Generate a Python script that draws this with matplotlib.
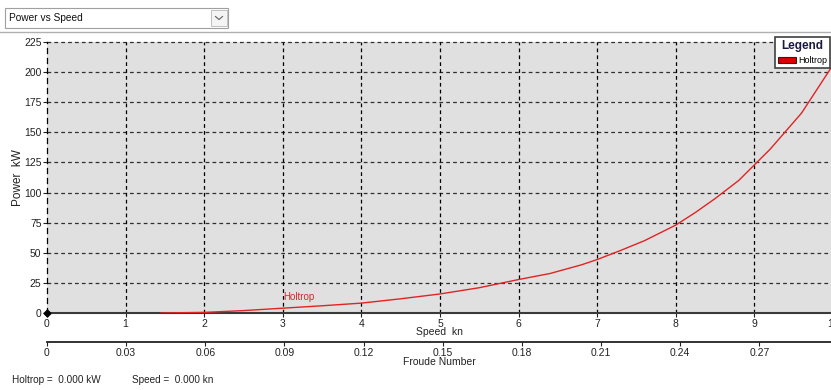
import matplotlib
matplotlib.use("Agg")
import matplotlib.pyplot as plt
from matplotlib.patches import Rectangle, Patch
from matplotlib.lines import Line2D

# Holtrop power curve
speed_kn = [1.45, 2.0, 2.5, 3.0, 3.5, 4.0, 4.5, 5.0, 5.5, 6.0, 6.4, 6.8, 7.0,
            7.3, 7.6, 8.0, 8.25, 8.5, 8.8, 9.0, 9.2, 9.4, 9.6, 9.8, 10.0]
power_kw = [0.0, 0.5, 2.0, 4.0, 6.0, 8.2, 11.8, 15.8, 21.0, 27.8, 32.8, 40.0, 44.4,
            52.0, 60.0, 73.0, 83.5, 95.0, 110.0, 123.0, 136.0, 151.0, 166.0, 186.0, 206.0]

speed_ticks = [0, 1, 2, 3, 4, 5, 6, 7, 8, 9, 10]
power_ticks = [0, 25, 50, 75, 100, 125, 150, 175, 200, 225]
froude_ticks = [0, 0.03, 0.06, 0.09, 0.12, 0.15, 0.18, 0.21, 0.24, 0.27]
froude_labels = ["0", "0.03", "0.06", "0.09", "0.12", "0.15", "0.18",
                 "0.21", "0.24", "0.27"]
froude_per_kn = 0.02979

plt.rcParams["font.family"] = ["Liberation Sans", "DejaVu Sans"]

W, H = 831, 390
fig = plt.figure(figsize=(W / 100, H / 100), dpi=100)


def fx(px):
    return px / W


def fy(py):
    return 1 - py / H


# main axes: x from 47px to 833px, y from 42px to 313px
left, right, top, bottom = 47, 833, 42, 313
ax = fig.add_axes([fx(left), fy(bottom), fx(right - left), (bottom - top) / H])
ax.set_facecolor("#e0e0e0")
ax.set_xlim(0, 10)
ax.set_ylim(0, 225)

ax.plot(speed_kn, power_kw, color="#e02424", lw=1.0, zorder=5)
ax.text(3.0, 9.0, "Holtrop", color="#d42a2a", fontsize=7, ha="left", va="bottom")
ax.plot([0], [0], marker="D", ms=3.5, color="black", clip_on=False, zorder=6)

ax.set_xticks(speed_ticks)
ax.set_yticks(power_ticks)
ax.tick_params(axis="both", labelsize=7.5, colors="#222222", length=3, width=0.8)
ax.tick_params(axis="x", pad=1)
ax.tick_params(axis="y", pad=1)

for v in power_ticks[1:]:
    ax.axhline(v, color="#303030", lw=0.9, ls=(0, (3, 2.5)), zorder=1, clip_on=False)
for v in speed_ticks[1:]:
    ax.axvline(v, color="black", lw=0.9, ls=(0, (3, 2.5)), zorder=1)

for s in ("top", "right"):
    ax.spines[s].set_visible(False)
ax.spines["left"].set_linestyle((0, (4, 4)))
ax.spines["left"].set_linewidth(0.9)
ax.spines["bottom"].set_color("#3a3a3a")
ax.spines["bottom"].set_linewidth(1.5)

ax.set_xlabel("Speed  kn", fontsize=7.5, color="#222222")
ax.xaxis.set_label_coords((439 - left) / (right - left), -(327 - bottom) / (bottom - top))
ax.set_ylabel("Power  kW", fontsize=8.5, color="#222222")
ax.yaxis.set_label_coords(-(left - 24) / (right - left), 0.5)

# legend box
handles = [Patch(facecolor="#dd0000", edgecolor="#222222", lw=0.8)]
leg = ax.legend(handles, ["Holtrop"], title="Legend", loc="upper left",
                bbox_to_anchor=(fx(775), fy(37)), bbox_transform=fig.transFigure,
                fontsize=6.5, title_fontproperties={"size": 8.5, "weight": "bold"},
                frameon=True, fancybox=False, framealpha=1, borderpad=0.3,
                handlelength=2.0, handleheight=0.7, handletextpad=0.3,
                borderaxespad=0)
leg.get_frame().set_edgecolor("#404040")
leg.get_frame().set_linewidth(1.2)
leg.get_title().set_color("#1a1a40")

# Froude number axis below
fax = fig.add_axes([fx(left), fy(342), fx(right - left), 0.001])
fax.set_xlim(0, 10 * froude_per_kn)
fax.set_ylim(0, 1)
fax.patch.set_visible(False)
for s in ("top", "right", "left"):
    fax.spines[s].set_visible(False)
fax.spines["bottom"].set_color("#222222")
fax.spines["bottom"].set_linewidth(1.3)
fax.set_yticks([])
fax.set_xticks(froude_ticks)
fax.set_xticklabels(froude_labels)
fax.tick_params(axis="x", labelsize=7.5, colors="#222222", length=3, width=0.8, pad=1)
fig.text(fx(439), fy(362), "Froude Number", fontsize=7.5, color="#222222",
         ha="center", va="center")

# combo box header
fig.add_artist(Rectangle((fx(5), fy(28)), fx(223), 20 / H, transform=fig.transFigure,
                         facecolor="white", edgecolor="#a0a0a0", lw=0.8))
fig.add_artist(Rectangle((fx(211), fy(26)), fx(16), 16 / H, transform=fig.transFigure,
                         facecolor="#f4f4f4", edgecolor="#b8b8b8", lw=0.6))
fig.add_artist(Line2D([fx(215.5), fx(219), fx(222.5)], [fy(16.5), fy(19.5), fy(16.5)],
                      transform=fig.transFigure, color="#606060", lw=0.8))
fig.text(fx(9), fy(18), "Power vs Speed", fontsize=7.3, color="#111111",
         ha="left", va="center")
fig.add_artist(Line2D([0, 1], [fy(31.5), fy(31.5)], transform=fig.transFigure,
                      color="#b0b0b0", lw=1.0))

# readout line
fig.text(fx(12), fy(380), "Holtrop =  0.000 kW", fontsize=7.2, color="#222222",
         ha="left", va="center")
fig.text(fx(132), fy(380), "Speed =  0.000 kn", fontsize=7.2, color="#222222",
         ha="left", va="center")

fig.savefig("out.png", dpi=100)
